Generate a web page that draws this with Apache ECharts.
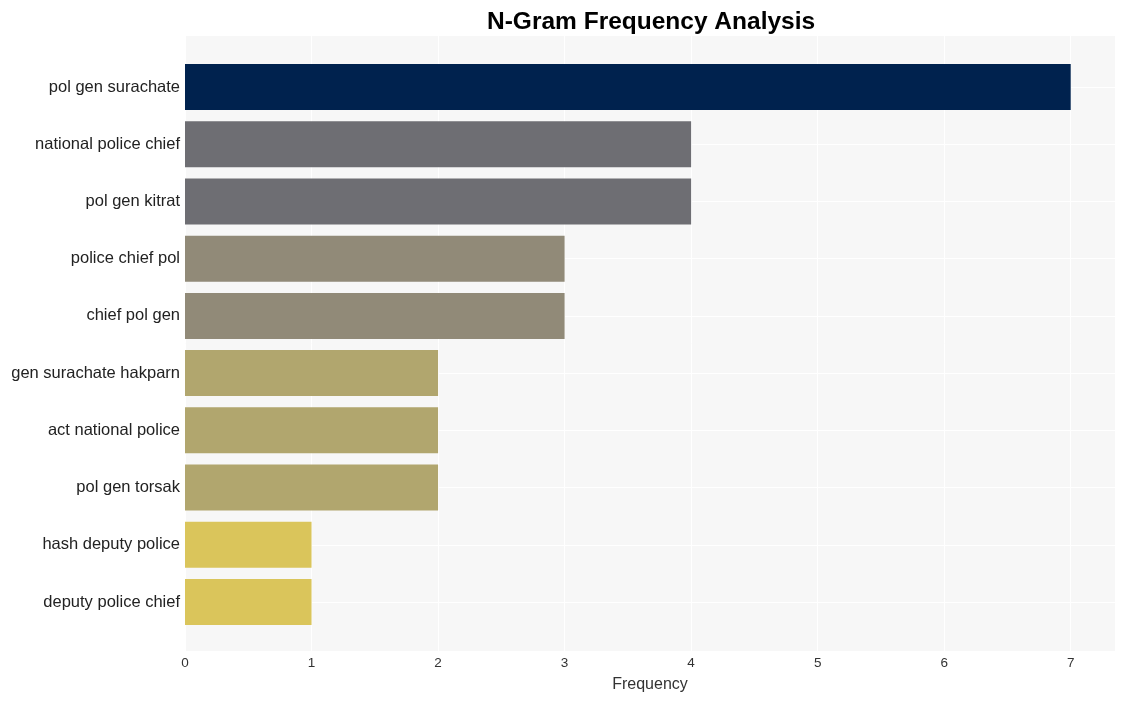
<!DOCTYPE html>
<html>
<head>
<meta charset="utf-8">
<script src="https://cdn.jsdelivr.net/npm/echarts@6/dist/echarts.min.js"></script>
<style>html,body{margin:0;padding:0;background:#fff}#c{width:1125px;height:701px}</style>
</head>
<body>
<div id="c"></div>
<script>
const categories = ["pol gen surachate","national police chief","pol gen kitrat","police chief pol","chief pol gen","gen surachate hakparn","act national police","pol gen torsak","hash deputy police","deputy police chief"];
const values = [7,4,4,3,3,2,2,2,1,1];
const colors = ["#00224e","#6e6e73","#6e6e73","#918a78","#918a78","#b1a66e","#b1a66e","#b1a66e","#dac55b","#dac55b"];
const xTicks = [0,1,2,3,4,5,6,7];
const xMax = 7.35;

const chart = echarts.init(document.getElementById('c'));
const font = '"Liberation Sans", Arial, sans-serif';
chart.setOption({
  animation:false,
  title:{text:'N-Gram Frequency Analysis',left:482,top:5,
    textStyle:{fontFamily:font,fontWeight:'bold',fontSize:24.5,color:'#000'}},
  grid:[
    {left:185,right:10,top:36,bottom:50,show:true,backgroundColor:'#f7f7f7',borderWidth:0,z:0},
    {left:185,right:10,top:87,bottom:99,z:1}
  ],
  xAxis:[
    {gridIndex:0,type:'value',min:0,max:xMax,interval:1,
     axisLine:{show:false},axisTick:{show:false},
     splitLine:{show:true,lineStyle:{color:'#ffffff',width:1}},
     axisLabel:{showMaxLabel:false,fontFamily:font,fontSize:13.5,color:'#333',margin:5,
       formatter:v=>xTicks.includes(v)?String(v):''},
     name:'Frequency',nameLocation:'middle',nameGap:26,
     nameTextStyle:{fontFamily:font,fontSize:16,color:'#333'}},
    {gridIndex:1,type:'value',min:0,max:xMax,show:false,splitLine:{show:false}}
  ],
  yAxis:[
    {gridIndex:0,type:'value',show:false,splitLine:{show:false}},
    {gridIndex:1,type:'category',data:categories,inverse:true,boundaryGap:false,
     axisLine:{show:false},axisTick:{show:false},
     splitLine:{show:true,lineStyle:{color:'#ffffff',width:1}},
     axisLabel:{fontFamily:font,fontSize:16.5,color:'#222',margin:5}}
  ],
  series:[{
    type:'bar',xAxisIndex:1,yAxisIndex:1,barWidth:46,
    data:values.map((v,i)=>({value:v,itemStyle:{color:colors[i]}})),
    z:3
  }]
});
</script>
</body>
</html>
